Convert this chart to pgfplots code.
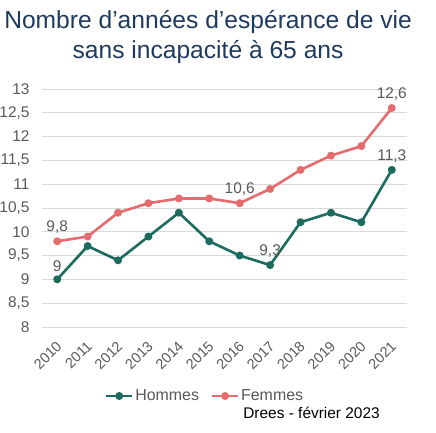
\documentclass[border=0pt]{standalone}
\usepackage{pgfplots}
\pgfplotsset{compat=1.18}
\usepackage{fontspec}
\setmainfont{Liberation Sans}

\definecolor{hommes}{HTML}{1B6B5F}
\definecolor{femmes}{HTML}{E56B6F}
\definecolor{titre}{HTML}{1F3A5F}
\definecolor{gris}{HTML}{595959}
\definecolor{grille}{HTML}{D9D9D9}

\begin{document}
\begin{tikzpicture}
\begin{axis}[
    scale only axis,
    width=365bp, height=238bp,
    xmin=-0.5, xmax=11.5,
    ymin=8, ymax=13,
    xtick={0,...,11},
    xticklabels={2010,2011,2012,2013,2014,2015,2016,2017,2018,2019,2020,2021},
    ytick={8,8.5,...,13},
    axis line style={draw=none},
    major tick length=0pt,
    ymajorgrids=true,
    grid style={grille, line width=0.8bp},
    /pgf/number format/.cd, use comma, fixed, assume math mode=true,
    /pgfplots/.cd,
    yticklabel style={font=\fontsize{15.5}{17}\selectfont, text=gris, xshift=-9bp},
    xticklabel style={font=\fontsize{14.5}{17}\selectfont, text=gris, xshift=2bp, yshift=-16.7bp, rotate=45, anchor=east, inner sep=0pt},
    legend style={draw=none, at={(0.447,-0.29)}, anchor=center,
        font=\fontsize{16}{18}\selectfont, text=gris, legend columns=-1,
        /tikz/every even column/.append style={column sep=10bp}},
    legend image code/.code={\draw[mark repeat=2,mark phase=2] plot coordinates {(0cm,0cm)(0.45cm,0cm)(0.9cm,0cm)};},
    nodes near coords,
    point meta=explicit symbolic,
    every node near coord/.append style={font=\fontsize{15.5}{17}\selectfont, text=gris, anchor=south, yshift=3bp},
    clip=false,
]
\addplot[hommes, line width=2.6bp, mark=*, mark size=2.6bp] coordinates {
    (0,9.0) [9] (1,9.7) [] (2,9.4) [] (3,9.9) [] (4,10.4) [] (5,9.8) []
    (6,9.5) [] (7,9.3) [9,3] (8,10.2) [] (9,10.4) [] (10,10.2) [] (11,11.3) [11,3]
};
\addlegendentry{Hommes}
\addplot[femmes, line width=2.6bp, mark=*, mark size=2.6bp] coordinates {
    (0,9.8) [9,8] (1,9.9) [] (2,10.4) [] (3,10.6) [] (4,10.7) [] (5,10.7) []
    (6,10.6) [10,6] (7,10.9) [] (8,11.3) [] (9,11.6) [] (10,11.8) [] (11,12.6) [12,6]
};
\addlegendentry{Femmes}
\node[anchor=north, align=center, text=titre, font=\fontsize{24.7}{30}\selectfont, inner sep=0pt]
    at (rel axis cs:0.455,1.33) {Nombre d’années d’espérance de vie\\sans incapacité à 65 ans};
\node[anchor=east, inner sep=0pt, font=\fontsize{15.5}{17}\selectfont]
    at (rel axis cs:0.926,-0.361) {Drees - février 2023};
\coordinate (bl) at (rel axis cs:-0.1151,-0.4454);
\coordinate (tr) at (rel axis cs:1.0795,1.3739);
\end{axis}
\pgfresetboundingbox
\path[use as bounding box] (bl) rectangle (tr);
\end{tikzpicture}
\end{document}
